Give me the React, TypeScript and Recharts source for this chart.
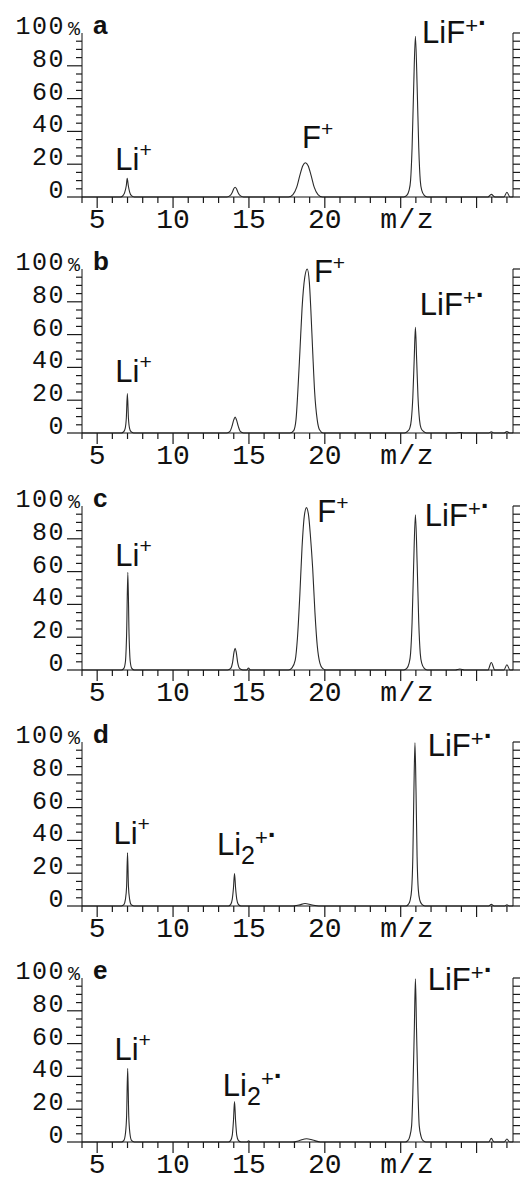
import React from 'react';
import { LineChart, Line, XAxis, YAxis, ReferenceDot } from 'recharts';

// m/z axis ticks (every unit), labelled values and the axis title
const xTicks = [4, 5, 6, 7, 8, 9, 10, 11, 12, 13, 14, 15, 16, 17, 18, 19, 20, 21, 22, 23, 24, 25, 26, 27, 28, 29, 30, 31, 32];
const xLabels = [5, 10, 15, 20];
const xTitle = 'm/z';
const xTitleAt = 25;

// relative intensity ticks (every 5 %) and labelled values
const yTicks = [0, 5, 10, 15, 20, 25, 30, 35, 40, 45, 50, 55, 60, 65, 70, 75, 80, 85, 90, 95, 100];
const yLabels = [0, 20, 40, 60, 80, 100];

const panelLetters = ['a', 'b', 'c', 'd', 'e'];

// spectra: [m/z, relative intensity %]
const spectrumA: [number, number][] = [
  [4, 0], [6.55, 0], [6.7, 0.8], [6.82, 3], [6.92, 7], [6.98, 11.4], [7.05, 7], [7.14, 3], [7.26, 0.8], [7.45, 0],
  [13.55, 0], [13.75, 0.8], [13.9, 2.8], [14.0, 5], [14.09, 5.9], [14.18, 5], [14.28, 2.8], [14.43, 0.8], [14.65, 0],
  [17.6, 0], [17.9, 1.5], [18.15, 6], [18.35, 13], [18.55, 19], [18.72, 20.9], [18.9, 19], [19.1, 13], [19.3, 6], [19.55, 1.5], [19.85, 0],
  [25.2, 0], [25.4, 1], [25.55, 4], [25.65, 10], [25.75, 30], [25.85, 65], [25.97, 98], [26.09, 65], [26.19, 30], [26.29, 10], [26.39, 4], [26.55, 1], [26.75, 0],
  [30.75, 0], [30.97, 1.6], [31.2, 0], [31.8, 0], [32.0, 2.9], [32.2, 0], [32.4, 0],
];

const spectrumB: [number, number][] = [
  [4, 0], [6.6, 0], [6.75, 0.8], [6.85, 3], [6.92, 9], [6.99, 24], [7.06, 9], [7.13, 3], [7.23, 0.8], [7.4, 0],
  [13.55, 0], [13.75, 1], [13.88, 4], [14.0, 8], [14.09, 9.7], [14.18, 8], [14.3, 4], [14.43, 1], [14.65, 0],
  [17.7, 0], [17.95, 1.5], [18.1, 8], [18.22, 25], [18.36, 50], [18.5, 76], [18.68, 95], [18.84, 100], [18.98, 92], [19.08, 75], [19.2, 50], [19.33, 25], [19.5, 8], [19.65, 2], [19.9, 0],
  [25.25, 0], [25.45, 1], [25.6, 3], [25.7, 8], [25.8, 22], [25.89, 45], [25.97, 64.5], [26.05, 45], [26.14, 22], [26.24, 8], [26.34, 3], [26.5, 1], [26.7, 0],
  [28.6, 0], [28.9, 0.3], [29.2, 0],
  [30.8, 0], [30.97, 0.8], [31.15, 0], [31.82, 0], [32.0, 0.9], [32.18, 0], [32.4, 0],
];

const spectrumC: [number, number][] = [
  [4, 0], [6.6, 0], [6.76, 1], [6.86, 5], [6.94, 22], [7.02, 59.6], [7.1, 22], [7.18, 5], [7.28, 1], [7.45, 0],
  [13.6, 0], [13.8, 1], [13.92, 4.5], [14.02, 11], [14.09, 13.3], [14.16, 11], [14.26, 4.5], [14.38, 1], [14.6, 0],
  [14.85, 0], [14.97, 1.2], [15.1, 0],
  [17.6, 0], [17.85, 1.5], [18.05, 6], [18.2, 20], [18.35, 45], [18.5, 75], [18.65, 94], [18.79, 99], [18.92, 95], [19.05, 82], [19.2, 62], [19.35, 35], [19.5, 15], [19.68, 4], [19.85, 1], [20.1, 0],
  [25.2, 0], [25.4, 1], [25.55, 4], [25.65, 10], [25.75, 29], [25.85, 63], [25.97, 94.6], [26.09, 63], [26.19, 29], [26.29, 10], [26.39, 4], [26.55, 1], [26.75, 0],
  [28.6, 0], [28.9, 0.6], [29.2, 0],
  [30.75, 0], [30.97, 4.6], [31.2, 0], [31.8, 0], [32.0, 3.2], [32.2, 0], [32.4, 0],
];

const spectrumD: [number, number][] = [
  [4, 0], [6.6, 0], [6.76, 0.8], [6.86, 4], [6.94, 12], [7.0, 32.4], [7.06, 12], [7.14, 4], [7.24, 0.8], [7.42, 0],
  [13.65, 0], [13.8, 1], [13.9, 4], [13.98, 11], [14.05, 19.8], [14.12, 11], [14.2, 4], [14.3, 1], [14.48, 0],
  [17.9, 0], [18.3, 0.6], [18.7, 1.5], [19.1, 0.8], [19.6, 0],
  [25.35, 0], [25.5, 1], [25.62, 3.5], [25.72, 10], [25.8, 30], [25.87, 70], [25.94, 99.5], [26.01, 70], [26.08, 30], [26.16, 10], [26.26, 3.5], [26.4, 1], [26.6, 0],
  [30.8, 0], [30.97, 1], [31.15, 0], [31.85, 0], [32.0, 0.8], [32.15, 0], [32.4, 0],
];

const spectrumE: [number, number][] = [
  [4, 0], [6.6, 0], [6.76, 1], [6.86, 5], [6.94, 16], [7.01, 45], [7.08, 16], [7.16, 5], [7.26, 1], [7.45, 0],
  [13.65, 0], [13.8, 1], [13.9, 4], [13.98, 13], [14.05, 24.6], [14.12, 13], [14.2, 4], [14.3, 1], [14.48, 0],
  [14.88, 0], [14.98, 0.8], [15.08, 0],
  [17.9, 0], [18.3, 0.8], [18.8, 2], [19.2, 1.2], [19.7, 0],
  [25.3, 0], [25.48, 1], [25.6, 3.5], [25.72, 10], [25.8, 30], [25.9, 70], [25.97, 99.5], [26.04, 70], [26.14, 30], [26.22, 10], [26.34, 3.5], [26.46, 1], [26.65, 0],
  [30.8, 0], [30.97, 2.2], [31.15, 0], [31.82, 0], [32.0, 1.8], [32.18, 0], [32.4, 0],
];

type Ion = 'Li' | 'Li2' | 'F' | 'LiF';
type IonLabel = { mz: number; y: number; ion: Ion };

// where each ion label starts (m/z) and its baseline (%)
const labelsA: IonLabel[] = [{ mz: 6.19, y: 16.5, ion: 'Li' }, { mz: 18.5, y: 29.9, ion: 'F' }, { mz: 26.41, y: 94, ion: 'LiF' }];
const labelsB: IonLabel[] = [{ mz: 6.19, y: 31, ion: 'Li' }, { mz: 19.28, y: 91.8, ion: 'F' }, { mz: 26.26, y: 72, ion: 'LiF' }];
const labelsC: IonLabel[] = [{ mz: 6.19, y: 63.7, ion: 'Li' }, { mz: 19.5, y: 90, ion: 'F' }, { mz: 26.59, y: 88, ion: 'LiF' }];
const labelsD: IonLabel[] = [{ mz: 6.07, y: 37.8, ion: 'Li' }, { mz: 12.89, y: 31.4, ion: 'Li2' }, { mz: 26.78, y: 91.3, ion: 'LiF' }];
const labelsE: IonLabel[] = [{ mz: 6.14, y: 50, ion: 'Li' }, { mz: 13.28, y: 28.2, ion: 'Li2' }, { mz: 26.78, y: 92.7, ion: 'LiF' }];

const spectra = [spectrumA, spectrumB, spectrumC, spectrumD, spectrumE];
const ionLabels = [labelsA, labelsB, labelsC, labelsD, labelsE];

const ink = '#111';
const mono = "'Liberation Mono', 'DejaVu Sans Mono', monospace";
const sans = "'Liberation Sans', Arial, sans-serif";

function IonText({ x, y, ion }: { x: number; y: number; ion: Ion }) {
  const common = { x, y, fontFamily: sans, fontSize: 31, fill: ink };
  const radical = <tspan fontSize={28} fontWeight="bold" dy={-1}>·</tspan>;
  if (ion === 'Li') {
    return <text {...common}>Li<tspan fontSize={21} dy={-13}>+</tspan></text>;
  }
  if (ion === 'F') {
    return <text {...common}>F<tspan fontSize={21} dy={-12}>+</tspan></text>;
  }
  if (ion === 'LiF') {
    return <text {...common}>LiF<tspan fontSize={22} dy={-10}>+</tspan>{radical}</text>;
  }
  return (
    <text {...common}>
      Li<tspan fontSize={25} dy={9}>2</tspan><tspan fontSize={22} dy={-19}>+</tspan>{radical}
    </text>
  );
}

const tickStroke = { stroke: '#1a1a1a', strokeWidth: 1.2 };

const makeLeftTick = (letter: string) => (props: any) => {
  const { x, y, payload } = props;
  const v = payload.value as number;
  if (!yLabels.includes(v)) {
    return (
      <g>
        <path d={`M${x - 6},${y}H${x}`} {...tickStroke} />
      </g>
    );
  }
  return (
    <g>
      {v !== 100 && <path d={`M${x - 15},${y}H${x}`} {...tickStroke} />}
      <text x={x - 17} y={y + 1} textAnchor="end" fontFamily={mono} fontSize={25} letterSpacing={1.5} fill={ink}>
        {v}
      </text>
      {v === 100 && (
        <>
          <text x={x - 14} y={y + 2} fontFamily={mono} fontSize={20} fill={ink}>%</text>
          <text x={x + 11} y={y + 1} fontFamily={sans} fontWeight="bold" fontSize={26} fill={ink}>{letter}</text>
        </>
      )}
    </g>
  );
};

const RightTick = (props: any) => {
  const { x, y } = props;
  return (
    <g>
      <path d={`M${x},${y}H${x + 7}`} {...tickStroke} />
    </g>
  );
};

const BottomTick = (props: any) => {
  const { x, y, payload } = props;
  const v = payload.value as number;
  const major = v % 5 === 0;
  return (
    <g>
      <path d={`M${x},${y}V${y + (major ? 11 : 6)}`} {...tickStroke} />
      {xLabels.includes(v) && (
        <text x={x} y={y + 31} textAnchor="middle" fontFamily={mono} fontSize={28} fill={ink}>
          {v}
        </text>
      )}
      {v === xTitleAt && (
        <text x={x + 7} y={y + 31} textAnchor="middle" fontFamily={mono} fontSize={28} letterSpacing={1.5} fill={ink}>
          {xTitle}
        </text>
      )}
    </g>
  );
};

function Panel({ index }: { index: number }) {
  const data = spectra[index].map(([mz, v]) => ({ mz, v }));
  const LeftTick = makeLeftTick(panelLetters[index]);
  return (
    <LineChart width={524} height={236} data={data} margin={{ top: 33, right: 0, bottom: 0, left: 0 }}>
      <XAxis
        dataKey="mz"
        type="number"
        domain={[4, 32.4]}
        ticks={xTicks}
        interval={0}
        height={39}
        tickSize={0}
        tickMargin={0}
        tickLine={false}
        axisLine={{ stroke: ink }}
        tick={BottomTick}
      />
      <YAxis
        yAxisId={0}
        type="number"
        domain={[0, 100]}
        ticks={yTicks}
        interval={0}
        width={82}
        tickSize={0}
        tickMargin={0}
        tickLine={false}
        axisLine={{ stroke: ink }}
        tick={LeftTick}
      />
      <YAxis
        yAxisId="r"
        orientation="right"
        type="number"
        domain={[0, 100]}
        ticks={yTicks}
        interval={0}
        width={11}
        tickSize={0}
        tickMargin={0}
        tickLine={false}
        axisLine={{ stroke: ink }}
        tick={RightTick}
      />
      <Line
        yAxisId={0}
        dataKey="v"
        type="monotone"
        stroke="#2a2a2a"
        strokeWidth={1.1}
        dot={false}
        isAnimationActive={false}
      />
      <Line yAxisId="r" dataKey="v" stroke="none" dot={false} isAnimationActive={false} />
      {ionLabels[index].map((l, i) => (
        <ReferenceDot
          key={i}
          yAxisId={0}
          x={l.mz}
          y={l.y}
          r={0}
          shape={(p: any) => <IonText x={p.cx} y={p.cy} ion={l.ion} />}
        />
      ))}
    </LineChart>
  );
}

export default function App() {
  return (
    <div style={{ position: 'absolute', left: 0, top: 0, width: 524, height: 1182, background: '#fff' }}>
      {spectra.map((_, i) => (
        <div key={i} style={{ position: 'absolute', left: 0, top: Math.round(i * 236.25) }}>
          <Panel index={i} />
        </div>
      ))}
    </div>
  );
}
